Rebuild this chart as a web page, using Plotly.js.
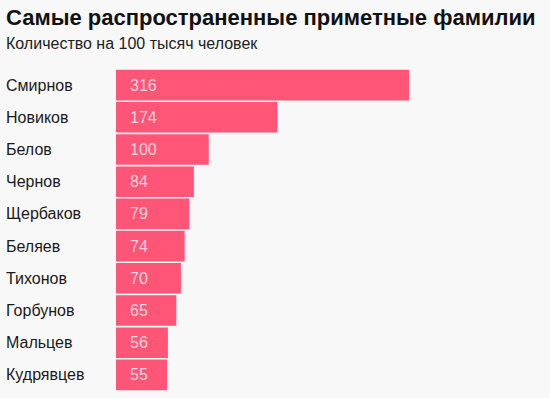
<!DOCTYPE html>
<html><head><meta charset="utf-8">
<script src="https://cdn.plot.ly/plotly-3.0.1.min.js"></script>
<style>html,body{margin:0;padding:0;background:#f8f8f8;}</style>
</head><body><div id="chart" style="width:550px;height:398px;"></div>
<script>
const surnames = ["Смирнов","Новиков","Белов","Чернов","Щербаков","Беляев","Тихонов","Горбунов","Мальцев","Кудрявцев"];
const values = [316,174,100,84,79,74,70,65,56,55];
const titleText = "Самые распространенные приметные фамилии";
const subtitleText = "Количество на 100 тысяч человек";

const barColor = "#ff5577";
const font = "Liberation Sans, Arial, sans-serif";

const annotations = [];
surnames.forEach((s, i) => {
  annotations.push({xref:"paper", yref:"y", x:0, y:s, xshift:-112, xanchor:"left", yanchor:"middle",
    text:s, showarrow:false, font:{family:font, size:16, color:"#1a1a1a"}});
  annotations.push({xref:"x", yref:"y", x:0, y:s, xshift:12, xanchor:"left", yanchor:"middle",
    text:String(values[i]), showarrow:false, font:{family:font, size:16, color:"rgba(255,235,240,0.85)"}});
});
annotations.push({xref:"paper", yref:"paper", x:0, y:1, xshift:-112, yshift:66, xanchor:"left", yanchor:"top",
  text:"<b>"+titleText+"</b>", showarrow:false, font:{family:font, size:22, color:"#111"}});
annotations.push({xref:"paper", yref:"paper", x:0, y:1, xshift:-112, yshift:36, xanchor:"left", yanchor:"top",
  text:subtitleText, showarrow:false, font:{family:font, size:16, color:"#222"}});

Plotly.newPlot("chart", [{
  type:"bar", orientation:"h", x:values, y:surnames,
  marker:{color:barColor}, hoverinfo:"none"
}], {
  width:550, height:398,
  paper_bgcolor:"#f8f8f8", plot_bgcolor:"#f8f8f8",
  margin:{l:116, r:141, t:69, b:7},
  bargap:0.05,
  showlegend:false,
  xaxis:{range:[0,316], visible:false, fixedrange:true},
  yaxis:{autorange:"reversed", showticklabels:false, showgrid:false, zeroline:false, fixedrange:true},
  annotations:annotations
}, {displayModeBar:false, staticPlot:true});
</script></body></html>
